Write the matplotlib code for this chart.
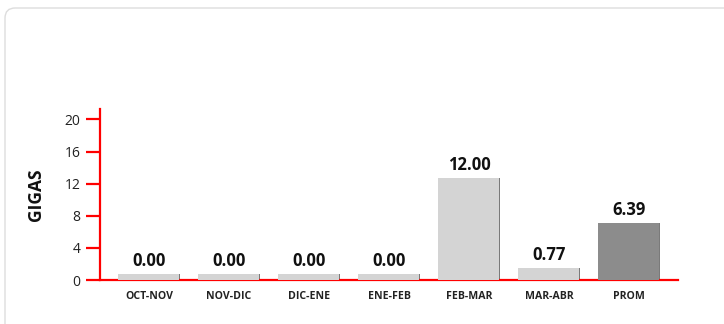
import matplotlib
matplotlib.use("Agg")
import matplotlib.pyplot as plt
import numpy as np
from matplotlib.patches import FancyBboxPatch

categories = ["OCT-NOV", "NOV-DIC", "DIC-ENE", "ENE-FEB", "FEB-MAR", "MAR-ABR", "PROM"]
values = [0.00, 0.00, 0.00, 0.00, 12.00, 0.77, 6.39]
yticks = [0, 4, 8, 12, 16, 20]
ylabel = "GIGAS"

plt.rcParams['font.family'] = ['Open Sans', 'DejaVu Sans']

W, H = 724, 324
fig = plt.figure(figsize=(W / 100, H / 100), dpi=100)
fig.patch.set_facecolor("white")

# card border
card = FancyBboxPatch((5 / W, -0.2), 1.2, 1.2 - 8 / H, boxstyle="round,pad=0,rounding_size=0.014",
                      transform=fig.transFigure, facecolor="white", edgecolor="#dddddd",
                      linewidth=1.0, mutation_aspect=W / H, zorder=-5)
fig.patches.append(card)

ax = fig.add_axes([100 / W, (H - 280) / H, 578 / W, (280 - 109) / H])
ax.set_facecolor("none")
ax.set_zorder(2)

x = np.arange(len(categories))
base = 0.7  # minimum visible bar stub
heights = np.array(values) + base
light = "#d4d4d4"
dark = "#8c8c8c"
colors = [light] * (len(values) - 1) + [dark]
w = 0.775
ax.bar(x, heights, width=w, bottom=0, color="#7a7a7a", zorder=2)
ax.bar(x - 0.006, heights, width=w - 0.012, bottom=0, color=colors, zorder=3)

for xi, h, v in zip(x, heights, values):
    ax.annotate(f"{v:.2f}", (xi, h), xytext=(0, 3), textcoords="offset points",
                ha="center", va="bottom", fontsize=12, fontweight="bold", color="#111111")

ax.set_xlim(-0.6125, len(categories) - 1 + 0.6125)
ax.set_ylim(0, 21.3)
ax.set_yticks(yticks)
ax.set_yticklabels([str(t) for t in yticks], fontsize=10, color="#222222")
ax.set_xticks(x)
ax.set_xticklabels(categories, fontsize=7.6, fontweight="bold", color="#222222")

red = "#ff0000"
for s in ["top", "right"]:
    ax.spines[s].set_visible(False)
for s in ["left", "bottom"]:
    ax.spines[s].set_color(red)
    ax.spines[s].set_linewidth(1.6)
ax.tick_params(axis="y", colors=red, length=10, width=1.6, pad=4, labelcolor="#222222")
ax.tick_params(axis="x", length=0, pad=8)

ax.set_ylabel(ylabel, fontsize=12.5, fontweight="bold", color="#111111", labelpad=14)

fig.savefig("out.png", dpi=100, facecolor="white")
